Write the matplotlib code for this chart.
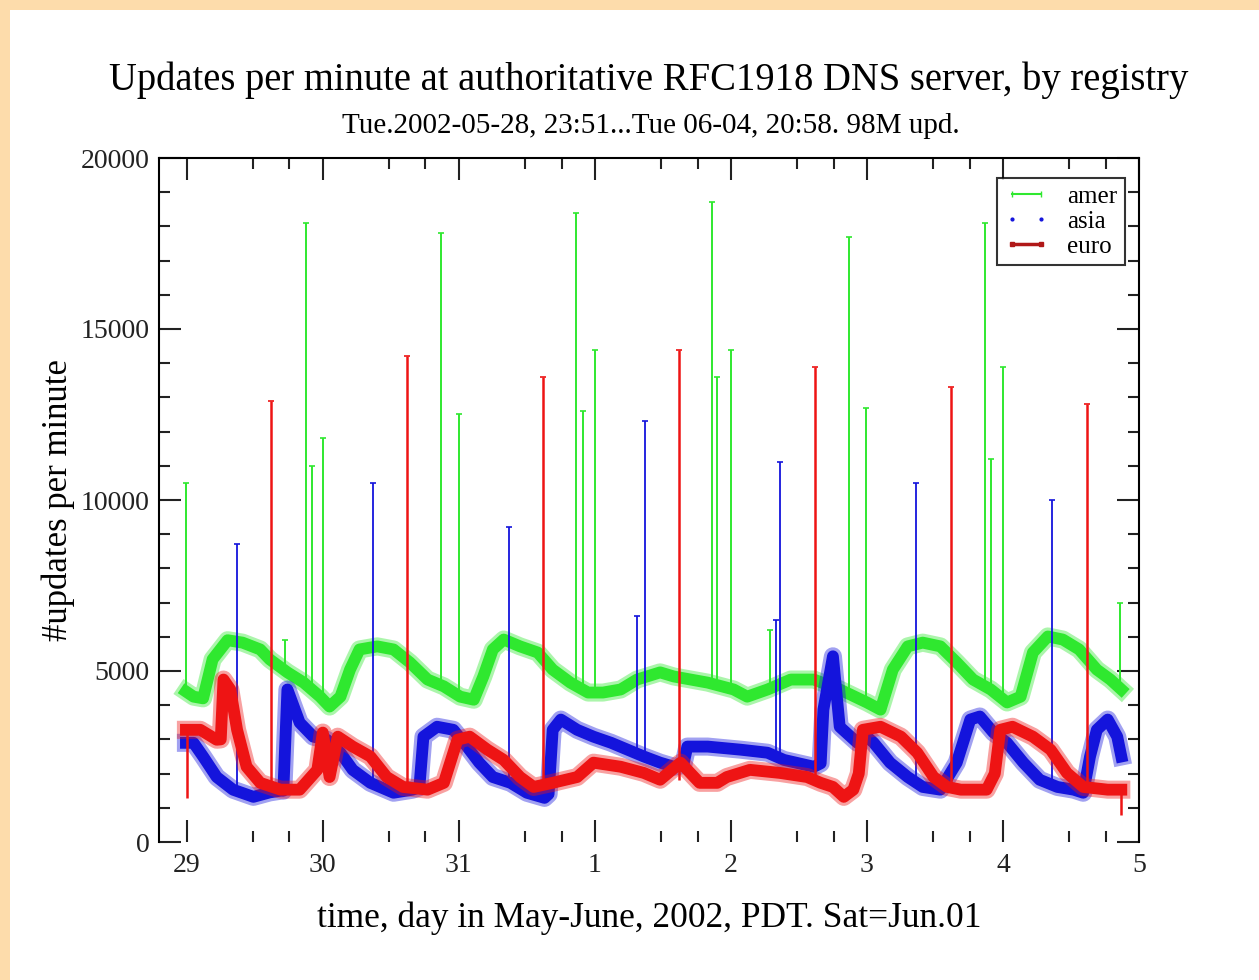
import numpy as np
import matplotlib as mpl
import matplotlib.pyplot as plt
from matplotlib.lines import Line2D
from matplotlib.patches import Rectangle
from matplotlib.ticker import FixedLocator, MultipleLocator

PEACH = "#fddcab"
GREEN = "#2fe82f"
BLUE = "#1414dc"
RED = "#ee1414"

amer_t = [-0.006, 0.05, 0.12, 0.19, 0.30, 0.41, 0.54, 0.61, 0.74, 0.86, 0.98, 1.05, 1.13,
          1.20, 1.27, 1.40, 1.52, 1.64, 1.77, 1.89, 2.01, 2.11, 2.18, 2.25, 2.33, 2.45,
          2.58, 2.69, 2.82, 2.95, 3.06, 3.19, 3.31, 3.48, 3.58, 3.83, 4.02, 4.12, 4.27,
          4.44, 4.61, 4.80, 5.00, 5.10, 5.19, 5.30, 5.41, 5.54, 5.66, 5.78, 5.91, 6.03,
          6.13, 6.22, 6.33, 6.44, 6.56, 6.69, 6.79, 6.87]
amer_v = [4400, 4250, 4200, 5340, 5900, 5830, 5630, 5340, 4960, 4660, 4250, 3960, 4250,
          5040, 5630, 5720, 5630, 5250, 4750, 4550, 4250, 4160, 4840, 5630, 5920, 5720,
          5540, 5040, 4660, 4370, 4370, 4460, 4750, 4960, 4840, 4660, 4460, 4250, 4460,
          4750, 4750, 4460, 4080, 3870, 5040, 5720, 5830, 5720, 5250, 4750, 4460, 4080,
          4250, 5540, 6010, 5920, 5630, 5040, 4750, 4460]

asia_t = [-0.006, 0.05, 0.12, 0.22, 0.34, 0.49, 0.61, 0.69, 0.71, 0.74, 0.83, 0.93, 1.03,
          1.13, 1.22, 1.35, 1.52, 1.66, 1.71, 1.74, 1.84, 1.96, 2.06, 2.15, 2.25, 2.38,
          2.50, 2.63, 2.66, 2.69, 2.75, 2.87, 2.99, 3.12, 3.24, 3.36, 3.48, 3.58, 3.65,
          3.68, 3.83, 4.07, 4.27, 4.39, 4.61, 4.66, 4.68, 4.75, 4.80, 4.93, 5.00, 5.05,
          5.17, 5.30, 5.41, 5.54, 5.66, 5.76, 5.83, 5.93, 6.03, 6.15, 6.27, 6.40, 6.52,
          6.59, 6.64, 6.69, 6.77, 6.84, 6.87]
asia_v = [2900, 2900, 2500, 1900, 1530, 1320, 1450, 1500, 1500, 4460, 3490, 3080, 2990,
          2610, 2110, 1730, 1440, 1530, 1600, 3080, 3370, 3280, 2790, 2320, 1900, 1730,
          1440, 1290, 1400, 3280, 3580, 3280, 3080, 2900, 2700, 2500, 2320, 2200, 2250,
          2790, 2790, 2700, 2610, 2400, 2200, 2300, 3870, 5430, 3370, 2900, 3080, 2900,
          2320, 1900, 1610, 1530, 2320, 3580, 3670, 3200, 2900, 2320, 1820, 1610, 1530,
          1440, 2500, 3280, 3580, 3080, 2500]

euro_t = [-0.006, 0.10, 0.22, 0.25, 0.27, 0.32, 0.37, 0.44, 0.54, 0.69, 0.83, 0.96, 1.00,
          1.05, 1.11, 1.22, 1.35, 1.47, 1.59, 1.77, 1.89, 1.99, 2.08, 2.21, 2.33, 2.45,
          2.55, 2.69, 2.87, 2.99, 3.19, 3.36, 3.48, 3.63, 3.77, 3.90, 3.97, 4.14, 4.36,
          4.56, 4.66, 4.75, 4.83, 4.90, 4.94, 4.97, 5.10, 5.25, 5.37, 5.49, 5.59, 5.69,
          5.88, 5.94, 5.98, 6.07, 6.22, 6.35, 6.47, 6.59, 6.77, 6.87]
euro_v = [3280, 3280, 2990, 3000, 4750, 4460, 3280, 2200, 1730, 1530, 1530, 2110, 3200,
          1900, 3080, 2790, 2500, 1900, 1610, 1530, 1730, 2990, 3080, 2700, 2400, 1900,
          1610, 1730, 1900, 2320, 2200, 2020, 1820, 2320, 1730, 1730, 1900, 2110, 2020,
          1900, 1730, 1610, 1320, 1530, 2000, 3280, 3370, 3080, 2610, 1900, 1610, 1530,
          1530, 2000, 3280, 3370, 3080, 2700, 2020, 1610, 1530, 1530]

# short bursts: time, low end, peak
amer_spk_t = [-0.005, 0.72, 0.88, 0.92, 1.00, 1.87, 2.00, 2.86, 2.91, 3.00, 3.86, 3.90,
              4.00, 4.29, 4.87, 4.99, 5.87, 5.91, 6.00, 6.86]
amer_spk_lo = [4300, 4900, 4600, 4500, 4200, 4500, 4200, 4500, 4400, 4300, 4600, 4600,
               4450, 4500, 4200, 4100, 4400, 4400, 4100, 4400]
amer_spk_hi = [10500, 5900, 18100, 11000, 11800, 17800, 12500, 18400, 12600, 14400, 18700,
               13600, 14400, 6200, 17700, 12700, 18100, 11200, 13900, 7000]

asia_spk_t = [0.37, 1.37, 2.37, 3.31, 3.37, 4.33, 4.36, 5.36, 6.36]
asia_spk_lo = [1500, 1600, 1700, 2500, 2400, 2500, 2400, 1600, 1600]
asia_spk_hi = [8700, 10500, 9200, 6600, 12300, 6500, 11100, 10500, 10000]

euro_spk_t = [0.0, 0.62, 1.62, 2.62, 3.62, 4.62, 5.62, 6.62, 6.87]
euro_spk_lo = [1300, 1500, 1500, 1600, 1800, 1800, 1500, 1500, 800]
euro_spk_hi = [3300, 12900, 14200, 13600, 14400, 13900, 13300, 12800, 1530]

day_ticks = [0, 1, 2, 3, 4, 5, 6, 7]
day_labels = ["29", "30", "31", "1", "2", "3", "4", "5"]

mpl.rcParams.update({
    "font.family": "serif",
    "font.serif": ["Liberation Serif", "DejaVu Serif"],
})

fig = plt.figure(figsize=(12.59, 9.8), dpi=100, facecolor=PEACH)
fig.patches.append(Rectangle((10 / 1259, 0), 1, 1 - 10 / 980, transform=fig.transFigure,
                             facecolor="white", edgecolor="none", zorder=-1))
ax = fig.add_axes([159 / 1259, 1 - 842 / 980, 980 / 1259, 684 / 980])


def series(t, v, st, lo, hi, color, lw_spk, z):
    # soft fringe + solid core, to look like the noisy per-minute band
    ax.plot(t, v, color=color, lw=13, alpha=0.4, solid_joinstyle="round", zorder=z)
    ax.plot(t, v, color=color, lw=8.5, solid_joinstyle="round", zorder=z)
    ax.vlines(st, lo, hi, color=color, lw=lw_spk, zorder=z)
    ax.plot(st, hi, ls="none", marker="_", ms=5, mew=1.2, color=color, zorder=z)


series(amer_t, amer_v, amer_spk_t, amer_spk_lo, amer_spk_hi, GREEN, 1.4, 2)
series(asia_t, asia_v, asia_spk_t, asia_spk_lo, asia_spk_hi, BLUE, 1.3, 3)
series(euro_t, euro_v, euro_spk_t, euro_spk_lo, euro_spk_hi, RED, 1.8, 4)

ax.set_xlim(-0.204, 7.0)
ax.set_ylim(0, 20000)
ax.spines["bottom"].set_visible(False)
for s in ["left", "right", "top"]:
    ax.spines[s].set_linewidth(1.5)

ax.set_xticks(day_ticks)
ax.set_xticklabels(day_labels)
minor_x = [d + f for d in day_ticks[:-1] for f in (0.485, 0.755)]
ax.xaxis.set_minor_locator(FixedLocator(minor_x))
ax.yaxis.set_major_locator(MultipleLocator(5000))
ax.yaxis.set_minor_locator(MultipleLocator(1000))
ax.tick_params(which="both", direction="in", top=True, right=True, width=1.5,
               labelsize=20, colors="#222222")
ax.tick_params(which="major", length=16)
ax.tick_params(which="minor", length=8)
ax.tick_params(axis="x", pad=8)
ax.tick_params(axis="y", pad=7)

ax.set_ylabel("#updates per minute", fontsize=25, va="center")
ax.yaxis.set_label_coords(-0.103, 0.5)
ax.set_xlabel("time, day in May-June, 2002, PDT. Sat=Jun.01", fontsize=25.5, va="center")
ax.xaxis.set_label_coords(0.5, -0.111)

fig.text(649 / 1259, 1 - 80 / 980,
         "Updates per minute at authoritative RFC1918 DNS server, by registry",
         ha="center", va="center", fontsize=27.8)
fig.text(651 / 1259, 1 - 126 / 980,
         "Tue.2002-05-28, 23:51...Tue 06-04, 20:58. 98M upd.",
         ha="center", va="center", fontsize=21)

handles = [
    Line2D([], [], color=GREEN, lw=1.5, marker="|", ms=5),
    Line2D([], [], color=BLUE, ls="none", marker=".", ms=4),
    Line2D([], [], color="#b01818", lw=2.5, marker="s", ms=3),
]
leg = ax.legend(handles, ["amer", "asia", "euro"], loc="upper left",
                bbox_to_anchor=(0.855, 0.971), borderaxespad=0, numpoints=2,
                fontsize=18, frameon=True, fancybox=False, labelspacing=0.1,
                handlelength=1.75, handletextpad=0.75, borderpad=0.3)
leg.get_frame().set_edgecolor("black")
leg.get_frame().set_linewidth(1.5)

fig.savefig("out.png", dpi=100, facecolor=PEACH)
